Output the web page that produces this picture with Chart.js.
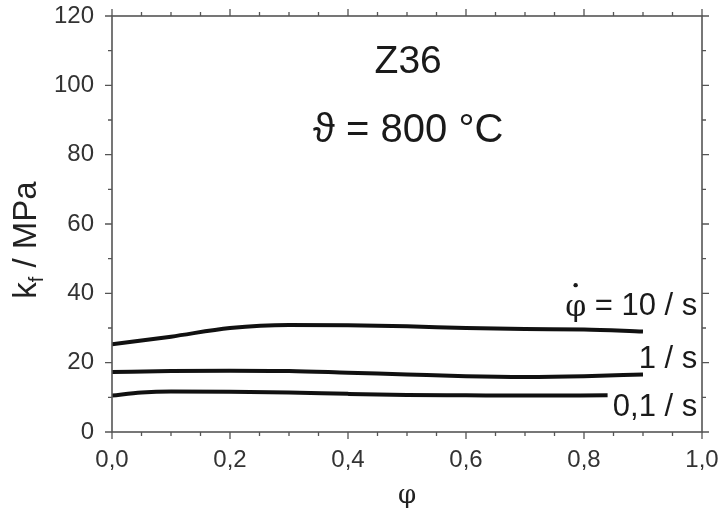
<!DOCTYPE html>
<html>
<head>
<meta charset="utf-8">
<script src="https://cdn.jsdelivr.net/npm/chart.js@4.4.1/dist/chart.umd.min.js"></script>
<style>
  html, body { margin: 0; padding: 0; background: #fff; }
  #wrap { width: 721px; height: 516px; }
</style>
</head>
<body>
<div id="wrap"><canvas id="chart" width="721" height="516"></canvas></div>
<script>
// strain values (phi) and flow stress kf in MPa
const phi10 = [0.0, 0.1, 0.2, 0.3, 0.4, 0.5, 0.6, 0.7, 0.8, 0.9];
const kf10  = [25.3, 27.5, 30.0, 30.9, 30.8, 30.5, 30.0, 29.7, 29.6, 29.0];

const phi1 = [0.0, 0.1, 0.2, 0.3, 0.4, 0.5, 0.6, 0.7, 0.8, 0.9];
const kf1  = [17.3, 17.6, 17.7, 17.6, 17.1, 16.6, 16.1, 15.9, 16.1, 16.6];

const phi01 = [0.0, 0.05, 0.1, 0.2, 0.3, 0.4, 0.5, 0.6, 0.7, 0.84];
const kf01  = [10.5, 11.4, 11.7, 11.6, 11.4, 11.0, 10.7, 10.6, 10.5, 10.6];

const xTicks = [0, 0.2, 0.4, 0.6, 0.8, 1.0];
const yTicks = [0, 20, 40, 60, 80, 100, 120];

const rateLabels = [
  { text: ' = 10 / s', x: 0.992, y: 36.3, dot: true },
  { text: '1 / s', x: 0.992, y: 20.8 },
  { text: '0,1 / s', x: 0.992, y: 7.2 }
];

const SANS = '"Liberation Sans", Arial, sans-serif';
const toXY = (xs, ys) => xs.map((x, i) => ({ x: x, y: ys[i] }));

const lineStyle = {
  borderColor: '#111',
  borderWidth: 4,
  pointRadius: 0,
  fill: false,
  cubicInterpolationMode: 'monotone'
};

// frame, minor/major ticks and the text inside the plot
const decor = {
  id: 'decor',
  afterDraw(chart) {
    const { ctx, chartArea: a, scales: { x, y } } = chart;
    ctx.save();
    ctx.strokeStyle = '#555';
    ctx.lineWidth = 1.6;
    ctx.strokeRect(a.left, a.top, a.right - a.left, a.bottom - a.top);

    ctx.lineWidth = 1.3;
    for (let v = 0; v <= 1.0001; v += 0.05) {
      const px = x.getPixelForValue(v);
      const major = Math.abs(v * 5 - Math.round(v * 5)) < 1e-6;
      const len = major ? 7 : 4;
      ctx.beginPath();
      ctx.moveTo(px, a.bottom); ctx.lineTo(px, a.bottom + len);
      ctx.moveTo(px, a.top); ctx.lineTo(px, a.top - len);
      ctx.stroke();
    }
    for (let v = 0; v <= 120; v += 10) {
      const py = y.getPixelForValue(v);
      const len = v % 20 === 0 ? 7 : 4;
      ctx.beginPath();
      ctx.moveTo(a.left, py); ctx.lineTo(a.left - len, py);
      ctx.moveTo(a.right, py); ctx.lineTo(a.right + len, py);
      ctx.stroke();
    }

    // y axis title with subscript f
    ctx.fillStyle = '#222';
    ctx.translate(27, 240);
    ctx.rotate(-Math.PI / 2);
    ctx.textBaseline = 'middle';
    ctx.textAlign = 'left';
    const big = '33px ' + SANS, small = '20px ' + SANS;
    ctx.font = big;
    const wk = ctx.measureText('k').width;
    const rest = ' / MPa';
    const wr = ctx.measureText(rest).width;
    ctx.font = small;
    const wf = ctx.measureText('f').width;
    let sx = -(wk + wf + wr) / 2;
    ctx.font = big;
    ctx.fillText('k', sx, 0);
    ctx.font = small;
    ctx.fillText('f', sx + wk, 10);
    ctx.font = big;
    ctx.fillText(rest, sx + wk + wf, 0);
    ctx.setTransform(1, 0, 0, 1, 0, 0);

    ctx.fillStyle = '#1a1a1a';
    ctx.textAlign = 'center';
    ctx.font = '39px ' + SANS;
    const cx = x.getPixelForValue(0.502);
    ctx.fillText('Z36', cx, y.getPixelForValue(106.6));
    ctx.font = '40px ' + SANS;
    ctx.fillText('\u03D1 = 800 \u00B0C', cx, y.getPixelForValue(86.8));

    ctx.textAlign = 'right';
    ctx.font = '31px ' + SANS;
    rateLabels.forEach(l => {
      const px = x.getPixelForValue(l.x);
      const py = y.getPixelForValue(l.y);
      ctx.fillText(l.text, px, py);
      if (l.dot) {
        const w = ctx.measureText(l.text).width;
        ctx.font = '30px "DejaVu Serif", serif';
        const pw = ctx.measureText('\u03C6').width;
        const left = px - w - pw;
        ctx.textAlign = 'left';
        ctx.fillText('\u03C6', left, py + 2);
        ctx.beginPath();
        ctx.arc(left + pw / 2, py - 21, 2.2, 0, Math.PI * 2);
        ctx.fill();
        ctx.textAlign = 'right';
        ctx.font = '31px ' + SANS;
      }
    });
    ctx.restore();
  }
};

new Chart(document.getElementById('chart'), {
  type: 'line',
  data: {
    datasets: [
      Object.assign({ label: '10 / s', data: toXY(phi10, kf10) }, lineStyle),
      Object.assign({ label: '1 / s', data: toXY(phi1, kf1) }, lineStyle),
      Object.assign({ label: '0,1 / s', data: toXY(phi01, kf01) }, lineStyle)
    ]
  },
  options: {
    responsive: false,
    animation: false,
    layout: { padding: { top: 16, right: 19, left: 0, bottom: 0 } },
    plugins: { legend: { display: false }, tooltip: { enabled: false } },
    scales: {
      x: {
        type: 'linear', min: 0, max: 1,
        afterBuildTicks: s => { s.ticks = xTicks.map(v => ({ value: v })); },
        afterFit: s => { s.height = 84; s.paddingLeft = 0; s.paddingRight = 0; },
        grid: { display: false },
        border: { display: false },
        ticks: {
          padding: 6,
          color: '#333',
          font: { family: SANS, size: 24 },
          callback: v => v.toFixed(1).replace('.', ',')
        },
        title: {
          display: true, text: '\u03C6', color: '#222',
          font: { family: '"DejaVu Serif", serif', size: 26 },
          padding: { top: 8 }
        }
      },
      y: {
        type: 'linear', min: 0, max: 120,
        afterBuildTicks: s => { s.ticks = yTicks.map(v => ({ value: v })); },
        afterFit: s => { s.width = 112; s.paddingTop = 0; s.paddingBottom = 0; },
        grid: { display: false },
        border: { display: false },
        ticks: {
          padding: 10,
          color: '#333',
          font: { family: SANS, size: 24 }
        }
      }
    }
  },
  plugins: [decor]
});
</script>
</body>
</html>
